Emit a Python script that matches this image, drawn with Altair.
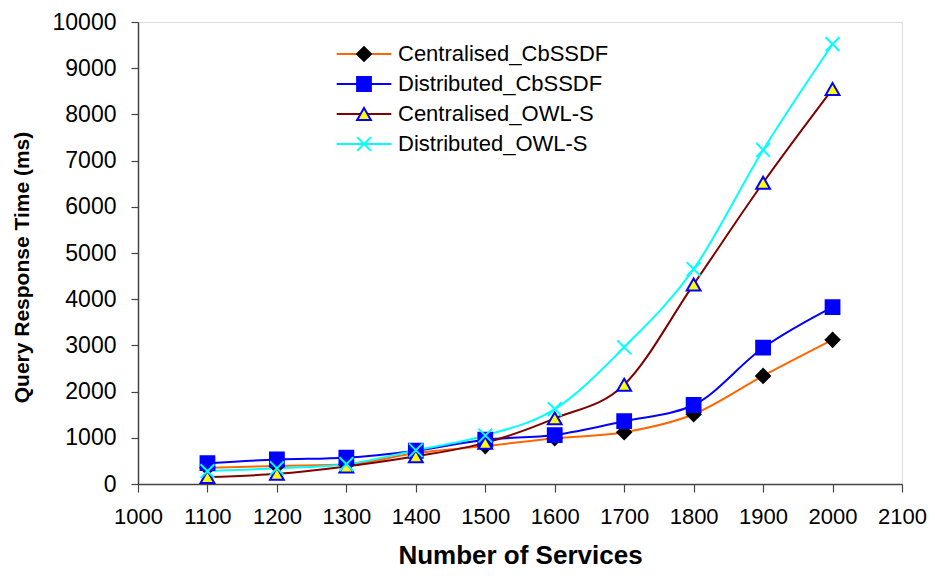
import altair as alt
import pandas as pd

services = [1100, 1200, 1300, 1400, 1500, 1600, 1700, 1800, 1900, 2000]
centralised_cbssdf = [350, 390, 420, 670, 820, 990, 1120, 1510, 2340, 3120]
distributed_cbssdf = [450, 530, 570, 720, 960, 1060, 1360, 1710, 2950, 3830]
centralised_owls = [150, 220, 380, 600, 890, 1420, 2150, 4320, 6520, 8550]
distributed_owls = [280, 340, 430, 730, 1050, 1620, 2960, 4650, 7230, 9520]

series_names = ["Centralised_CbSSDF", "Distributed_CbSSDF", "Centralised_OWL-S", "Distributed_OWL-S"]
line_colors = ["#FF6600", "#0000FF", "#800000", "#00FFFF"]
marker_shapes = ["diamond", "square", "triangle-up", "M-1,-1L1,1M-1,1L1,-1"]
marker_fills = ["#000000", "#0000FF", "#FFFF00", "transparent"]
marker_strokes = ["#000000", "#0000FF", "#0000FF", "#00FFFF"]

rows = []
for name, vals in zip(series_names, [centralised_cbssdf, distributed_cbssdf, centralised_owls, distributed_owls]):
    for x, y in zip(services, vals):
        rows.append({"services": x, "time": y, "series": name, "series_l": name, "order": series_names.index(name)})
df = pd.DataFrame(rows)

FONT = "Liberation Sans"

x_enc = alt.X("services:Q", scale=alt.Scale(domain=[1000, 2100], nice=False, zero=False),
              axis=alt.Axis(values=list(range(1000, 2101, 100)), format="d", title="Number of Services",
                            grid=False, tickSize=8, labelPadding=14, labelFontSize=22,
                            labelFont=FONT, labelColor="black", titleFont=FONT,
                            titleFontSize=26, titleFontWeight="bold", titleColor="black",
                            titleBaseline="alphabetic", titleY=79, domainColor="#444",
                            domainWidth=1.5, tickColor="#444", tickWidth=1.2,
                            labelFlush=False, labelOverlap=False))
y_enc = alt.Y("time:Q", scale=alt.Scale(domain=[0, 10000], nice=False),
              axis=alt.Axis(values=list(range(0, 10001, 1000)), format="d", title="Query Response Time (ms)",
                            grid=False, tickSize=7, labelPadding=15, labelFontSize=23,
                            labelFont=FONT, labelColor="black", titleFont=FONT,
                            titleFontSize=21, titleFontWeight="bold", titleColor="black",
                            titleBaseline="middle", titleX=-116, titleY=245,
                            domainColor="#444", domainWidth=1.5, tickColor="#444",
                            tickWidth=1.2, labelOverlap=False))

LEG_X = 215
LEG_Y = 21

# reversed domain/range for the line scale keeps its legend separate from the marker legend
lines = alt.Chart(df).mark_line(interpolate="monotone", strokeWidth=2).encode(
    x=x_enc, y=y_enc,
    color=alt.Color("series_l:N",
                    scale=alt.Scale(domain=series_names[::-1], range=line_colors[::-1]),
                    legend=alt.Legend(title=None, orient="none", legendX=LEG_X, legendY=LEG_Y,
                                      values=series_names,
                                      symbolType="M-3.9,0L3.9,0", symbolSize=196, symbolStrokeWidth=2,
                                      labelFontSize=22, labelFont=FONT, labelColor="black",
                                      labelLimit=400, rowPadding=8, labelOffset=23)),
    detail="series:N",
    order="order:Q",
)

leg_pts = dict(title=None, orient="none", legendX=LEG_X, legendY=LEG_Y,
               symbolSize=190, symbolStrokeWidth=2, labelFontSize=22, labelFont=FONT,
               labelColor="transparent", labelLimit=400, rowPadding=8, labelOffset=23)

points = alt.Chart(df).mark_point(size=190, strokeWidth=2, filled=False, opacity=1).encode(
    x="services:Q", y="time:Q",
    shape=alt.Shape("series:N", scale=alt.Scale(domain=series_names, range=marker_shapes),
                    legend=alt.Legend(**leg_pts)),
    fill=alt.Fill("series:N", scale=alt.Scale(domain=series_names, range=marker_fills),
                  legend=alt.Legend(**leg_pts)),
    stroke=alt.Stroke("series:N", scale=alt.Scale(domain=series_names, range=marker_strokes),
                      legend=alt.Legend(**leg_pts)),
)

chart = alt.layer(lines, points).properties(
    width=764, height=462,
    autosize=alt.AutoSizeParams(type="none"),
    padding={"left": 130, "top": 14, "right": 25, "bottom": 85},
).configure_view(stroke="#888888", strokeWidth=1.5).configure(background="white")

chart.save("out.html", embed_options={"renderer": "svg", "actions": False})
